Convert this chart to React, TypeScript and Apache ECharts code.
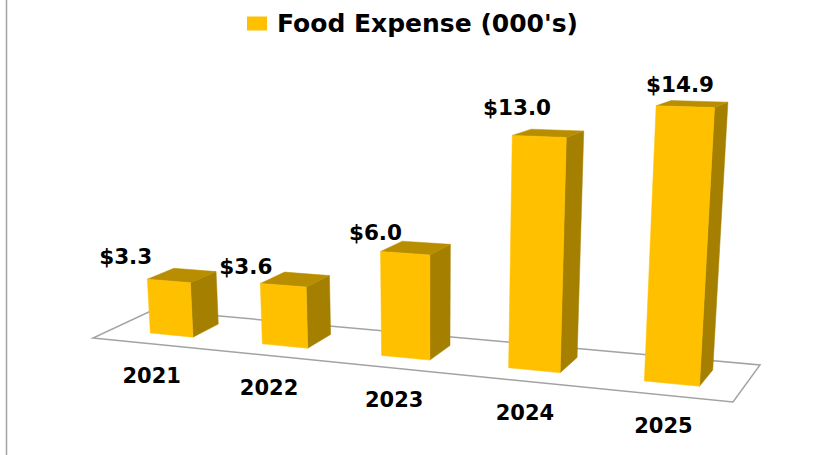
import React, { useEffect, useRef } from "react";
import * as echarts from "echarts";

const categories = ["2021", "2022", "2023", "2024", "2025"];
const foodExpense = [3.3, 3.6, 6.0, 13.0, 14.9];
const seriesName = "Food Expense (000's)";
const valueLabelNudge = [[-56, -19], [-49, -13], [-40, -15], [-31, -26], [-12, -19]];
const categoryLabelNudge = [[-20, 41], [-16, 42], [-11.5, 42], [-9.5, 43], [-8.5, 42]];

const W = 840, H = 455;
const FRONT = "#FFC000", SIDE = "#A58000", TOP = "#B88E00", LINE = "#A3A3A3";
const FONT = '"DejaVu Sans", sans-serif';

// Floor plane: unit square (u along the category axis, v into depth) -> screen homography
const FL = [93, 338], FR = [733, 402], BR = [760, 365], BL = [153, 310];
const makeFloor = () => {
  const dx1 = FR[0] - BR[0], dx2 = BL[0] - BR[0], sx = FL[0] - FR[0] + BR[0] - BL[0];
  const dy1 = FR[1] - BR[1], dy2 = BL[1] - BR[1], sy = FL[1] - FR[1] + BR[1] - BL[1];
  const den = dx1 * dy2 - dx2 * dy1;
  const g = (sx * dy2 - dx2 * sy) / den;
  const h = (dx1 * sy - sx * dy1) / den;
  const a = FR[0] - FL[0] + g * FR[0], b = BL[0] - FL[0] + h * BL[0];
  const d = FR[1] - FL[1] + g * FR[1], e = BL[1] - FL[1] + h * BL[1];
  return (u: number, v: number) => {
    const w = g * u + h * v + 1;
    return [(a * u + b * v + FL[0]) / w, (d * u + e * v + FL[1]) / w];
  };
};
const floorAt = makeFloor();

// Raise a floor point by a height given in axis pixels (20 px per unit on the hidden axis)
const raise = (p: number[], axisPx: number) => {
  const perUnit = 16.4 + (p[1] - 335) * 0.045;
  const up = (axisPx / 20) * perUnit;
  return [p[0] + (p[0] - 430) * 0.0002 * up, p[1] - up];
};

const U_SPAN = 0.993, U_SHIFT = 0.0105, BAR_U = 0.077, V_FRONT = 0.3, V_BACK = 0.75;

const renderBar = (params: any, api: any) => {
  const i = api.value(0), val = api.value(1);
  const plotW = params.coordSys.width;
  const u = (api.coord([i, 0])[0] / plotW) * U_SPAN + U_SHIFT;
  const halfU = (api.size([1, 0])[0] / plotW) * (BAR_U / 0.2) / 2;
  const px = api.size([0, val])[1];
  const fl = floorAt(u - halfU, V_FRONT), fr = floorAt(u + halfU, V_FRONT);
  const bl = floorAt(u - halfU, V_BACK), br = floorAt(u + halfU, V_BACK);
  const tfl = raise(fl, px), tfr = raise(fr, px), tbl = raise(bl, px), tbr = raise(br, px);
  const poly = (points: number[][], fill: string) => ({
    type: "polygon",
    shape: { points },
    style: { fill, stroke: fill, lineWidth: 0.5 },
  });
  const text = (s: string, x: number, y: number, size: number) => ({
    type: "text",
    style: {
      text: s, x, y, fill: "#000", align: "center", verticalAlign: "middle",
      font: `bold ${size}px ${FONT}`,
    },
  });
  const topMid = [(tfl[0] + tbr[0]) / 2, (tfl[1] + tbr[1]) / 2];
  const frontMid = [(fl[0] + fr[0]) / 2, (fl[1] + fr[1]) / 2];
  return {
    type: "group",
    children: [
      poly([fr, br, tbr, tfr], SIDE),
      poly([tfl, tfr, tbr, tbl], TOP),
      poly([fl, fr, tfr, tfl], FRONT),
      text(`$${val.toFixed(1)}`, topMid[0] + valueLabelNudge[i][0], topMid[1] + valueLabelNudge[i][1], 21.5),
      text(categories[i], frontMid[0] + categoryLabelNudge[i][0], frontMid[1] + categoryLabelNudge[i][1], 21),
    ],
  };
};

const renderFloor = () => ({
  type: "polygon",
  shape: { points: [FL, FR, BR, BL] },
  style: { fill: "#fff", stroke: LINE, lineWidth: 1.5 },
});

export default function App() {
  const ref = useRef<HTMLDivElement>(null);
  useEffect(() => {
    const chart = echarts.init(ref.current!, null, { renderer: "svg" });
    chart.setOption({
      animation: false,
      backgroundColor: "#fff",
      grid: { left: 0, top: 0, width: W, height: 400 },
      xAxis: { type: "category", data: categories, show: false },
      yAxis: { type: "value", min: 0, max: 20, show: false },
      legend: {
        data: [seriesName],
        left: 242, top: 6,
        icon: "rect", itemWidth: 20, itemHeight: 14, itemGap: 10,
        textStyle: { fontFamily: FONT, fontWeight: "bold", fontSize: 25, color: "#000", padding: [0, 0, 0, 5] },
        selectedMode: false,
      },
      graphic: [{
        type: "line", shape: { x1: 6.5, y1: 0, x2: 6.5, y2: H },
        style: { stroke: LINE, lineWidth: 1.5 }, silent: true,
      }],
      series: [
        { type: "custom", name: "floor", renderItem: renderFloor, data: [[0, 0]], clip: false, silent: true, z: 1 },
        {
          type: "custom", name: seriesName, renderItem: renderBar, clip: false, z: 2,
          encode: { x: 0, y: 1 },
          itemStyle: { color: FRONT },
          data: foodExpense.map((v, i) => [i, v]),
        },
      ],
    });
    return () => chart.dispose();
  }, []);
  return <div ref={ref} style={{ position: "absolute", left: 0, top: 0, width: W, height: H }} />;
}
